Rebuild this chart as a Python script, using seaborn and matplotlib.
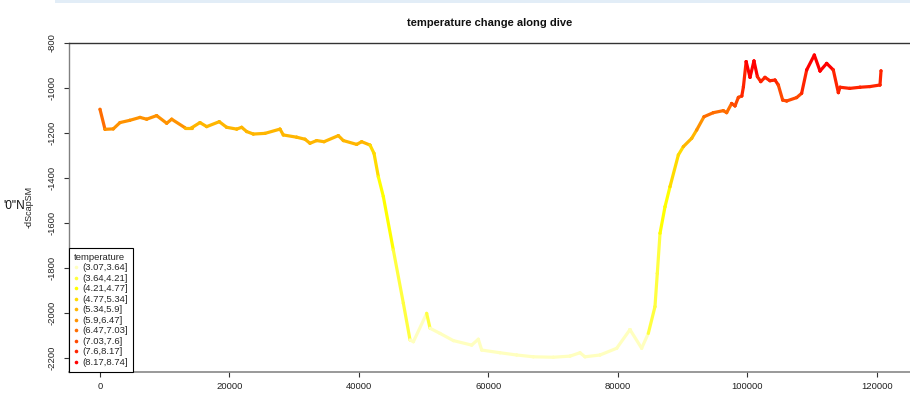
import numpy as np
import pandas as pd
import matplotlib
matplotlib.use("Agg")
import matplotlib.pyplot as plt
from matplotlib.collections import LineCollection
from matplotlib.lines import Line2D
from matplotlib.patches import Rectangle
import seaborn as sns

# ---------------- data ----------------
distance = [0, 772, 2050, 3090, 4600, 6180, 7210, 8750, 10300, 11070, 13130, 14160,
            15440, 16480, 18420, 19560, 21110, 21880, 22660, 23680, 25480, 27800,
            28310, 30370, 31660, 32430, 33460, 34600, 36810, 37580, 39640, 40410,
            41700, 42320, 42990, 43760, 45300, 46850, 47880, 48400, 50450, 50970,
            52510, 54570, 57400, 58430, 58950, 61780, 64350, 66920, 70010, 72590,
            74130, 74900, 77220, 79800, 81850, 83650, 84680, 85710, 86070, 86490,
            87260, 88030, 89320, 90090, 91380, 92150, 93280, 94720, 96260, 96780,
            97550, 98070, 98590, 99120, 99370, 99790, 100390, 101000, 101530, 102050,
            102700, 103470, 104250, 104760, 105430, 106050, 107590, 108360, 109140,
            110320, 111200, 112230, 113250, 114030, 114290, 115800, 117380, 118900,
            120460, 120620]
depth = [-1096, -1185, -1183, -1155, -1145, -1132, -1140, -1124, -1158, -1140, -1178, -1178,
         -1155, -1173, -1151, -1176, -1184, -1176, -1195, -1206, -1203, -1184,
         -1210, -1220, -1229, -1247, -1235, -1240, -1213, -1235, -1252, -1240,
         -1255, -1292, -1396, -1484, -1721, -1958, -2121, -2129, -2003, -2069,
         -2092, -2124, -2144, -2118, -2166, -2178, -2188, -2196, -2198, -2193,
         -2178, -2196, -2188, -2158, -2075, -2158, -2092, -1973, -1825, -1647,
         -1529, -1440, -1299, -1262, -1225, -1188, -1129, -1111, -1102, -1111,
         -1070, -1081, -1043, -1037, -996, -884, -954, -881, -951, -973,
         -954, -969, -966, -988, -1055, -1059, -1044, -1025, -921,
         -855, -926, -892, -921, -1022, -998, -1003, -998, -995,
         -988, -925]
temperature = [6.9, 6.4, 6.3, 6.3, 6.2, 6.2, 6.1, 6.1, 6.0, 6.0, 5.9, 5.9,
               5.9, 5.8, 5.8, 5.8, 5.7, 5.7, 5.7, 5.6, 5.6, 5.6,
               5.6, 5.6, 5.5, 5.5, 5.5, 5.5, 5.5, 5.5, 5.4, 5.4,
               5.4, 5.2, 4.8, 4.5, 4.3, 3.9, 3.5, 3.4, 3.8, 3.6,
               3.5, 3.4, 3.3, 3.5, 3.2, 3.2, 3.2, 3.1, 3.1, 3.1,
               3.2, 3.1, 3.2, 3.3, 3.7, 3.5, 3.6, 3.8, 4.0, 4.3,
               4.6, 4.7, 5.0, 5.3, 5.7, 6.0, 6.4, 6.6, 6.8, 6.9,
               7.1, 7.1, 7.4, 7.5, 7.8, 8.4, 8.0, 8.4, 8.0, 7.8,
               7.9, 7.8, 7.8, 7.6, 7.2, 7.2, 7.3, 7.5, 8.1,
               8.6, 8.2, 8.4, 8.2, 7.7, 7.9, 7.9, 7.9, 7.9,
               7.9, 8.1]

temp_breaks = [3.07, 3.64, 4.21, 4.77, 5.34, 5.9, 6.47, 7.03, 7.6, 8.17, 8.74]
temp_labels = ["(3.07,3.64]", "(3.64,4.21]", "(4.21,4.77]", "(4.77,5.34]", "(5.34,5.9]",
               "(5.9,6.47]", "(6.47,7.03]", "(7.03,7.6]", "(7.6,8.17]", "(8.17,8.74]"]
heat_colors = ["#FFFFBF", "#FFFF40", "#FFFF00", "#FFDB00", "#FFB600",
               "#FF9200", "#FF6D00", "#FF4900", "#FF2400", "#FF0000"]

x_ticks = [0, 20000, 40000, 60000, 80000, 100000, 120000]
y_ticks = [-800, -1000, -1200, -1400, -1600, -1800, -2000, -2200]

# ---------------- figure ----------------
sns.set_theme(style="white")
plt.rcParams["font.family"] = ["Liberation Sans", "DejaVu Sans"]

W, H = 910, 397
fig = plt.figure(figsize=(W / 100, H / 100), dpi=100)
ax_l, ax_r, ax_t, ax_b = 69, 912, 42.7, 371.7
ax = fig.add_axes([ax_l / W, 1 - ax_b / H, (ax_r - ax_l) / W, (ax_b - ax_t) / H])

k = 129.5 / 20000.0  # px per unit
x0px = 100.0
ax.set_xlim((ax_l - x0px) / k, (ax_r - x0px) / k)
ky = 0.225
ax.set_ylim(-800 - (ax_b - ax_t) / ky, -800)

df = pd.DataFrame({"distance": distance, "depth": depth, "temperature": temperature})
df["tclass"] = pd.cut(df["temperature"], bins=temp_breaks, labels=temp_labels)
palette = dict(zip(temp_labels, heat_colors))

# coloured path
pts = df[["distance", "depth"]].to_numpy()
segs = np.stack([pts[:-1], pts[1:]], axis=1)
tmid = (df["temperature"].to_numpy()[:-1] + df["temperature"].to_numpy()[1:]) / 2
seg_cls = pd.cut(tmid, bins=temp_breaks, labels=temp_labels)
seg_cols = [palette[c] for c in seg_cls]
lc = LineCollection(segs, colors=seg_cols, linewidths=2.3, capstyle="round",
                    joinstyle="round", zorder=3)
ax.add_collection(lc)

sns.scatterplot(data=df, x="distance", y="depth", hue="tclass", palette=palette,
                hue_order=temp_labels, s=5, linewidth=0, legend=False, ax=ax, zorder=2)

# axes styling
ax.set_xticks(x_ticks)
ax.set_yticks(y_ticks)
ax.set_xticklabels([str(v) for v in x_ticks])
ax.set_yticklabels([str(v) for v in y_ticks], rotation=90, va="center")
ax.tick_params(axis="x", which="major", direction="out", length=3.6, width=0.8,
               color="#333333", labelsize=6.8, labelcolor="#222222", pad=4, bottom=True)
ax.tick_params(axis="y", which="major", direction="out", length=3.6, width=0.8,
               color="#333333", labelsize=6.8, labelcolor="#222222", pad=5, left=True)
ax.set_xlabel("")
ax.set_ylabel("-dScapSM", fontsize=6.5, color="#222222")
ax.yaxis.set_label_coords((34 - ax_l) / (ax_r - ax_l), 0.5)

for side in ["top", "left", "bottom"]:
    ax.spines[side].set_visible(True)
ax.spines["right"].set_visible(False)
ax.spines["top"].set_color("#333333")
ax.spines["top"].set_linewidth(1.0)
ax.spines["left"].set_color("#808080")
ax.spines["left"].set_linewidth(1.0)
ax.spines["bottom"].set_color("#888888")
ax.spines["bottom"].set_linewidth(1.2)
ax.grid(False)

# legend
handles = [Line2D([0], [0], marker="o", linestyle="none", markersize=2.6,
                  markerfacecolor=c, markeredgewidth=0) for c in heat_colors]
leg = ax.legend(handles, temp_labels, title="temperature", loc="lower left",
                bbox_to_anchor=(0, 0), borderaxespad=0, fontsize=6.8,
                title_fontsize=6.8, frameon=True, fancybox=False,
                handlelength=0.5, handletextpad=0.45, labelspacing=0.16,
                borderpad=0.5, alignment="left")
leg.get_frame().set_edgecolor("black")
leg.get_frame().set_linewidth(0.8)
leg.get_frame().set_facecolor("white")
leg.get_frame().set_alpha(1)

# title
fig.text(490 / W, 1 - 22.5 / H, "temperature change along dive", ha="center",
         va="center", fontsize=8.0, fontweight="bold", color="#111111")

# stray label fragment at left edge and top strip
fig.text(25 / W, 1 - 206 / H, "'0\"N", ha="right", va="center", fontsize=8.6,
         color="#111111")
fig.patches.append(Rectangle((55 / W, 1 - 2.5 / H), 1, 2.5 / H, transform=fig.transFigure,
                             facecolor="#e2edf7", edgecolor="none", zorder=0))

fig.savefig("out.png", dpi=100)
